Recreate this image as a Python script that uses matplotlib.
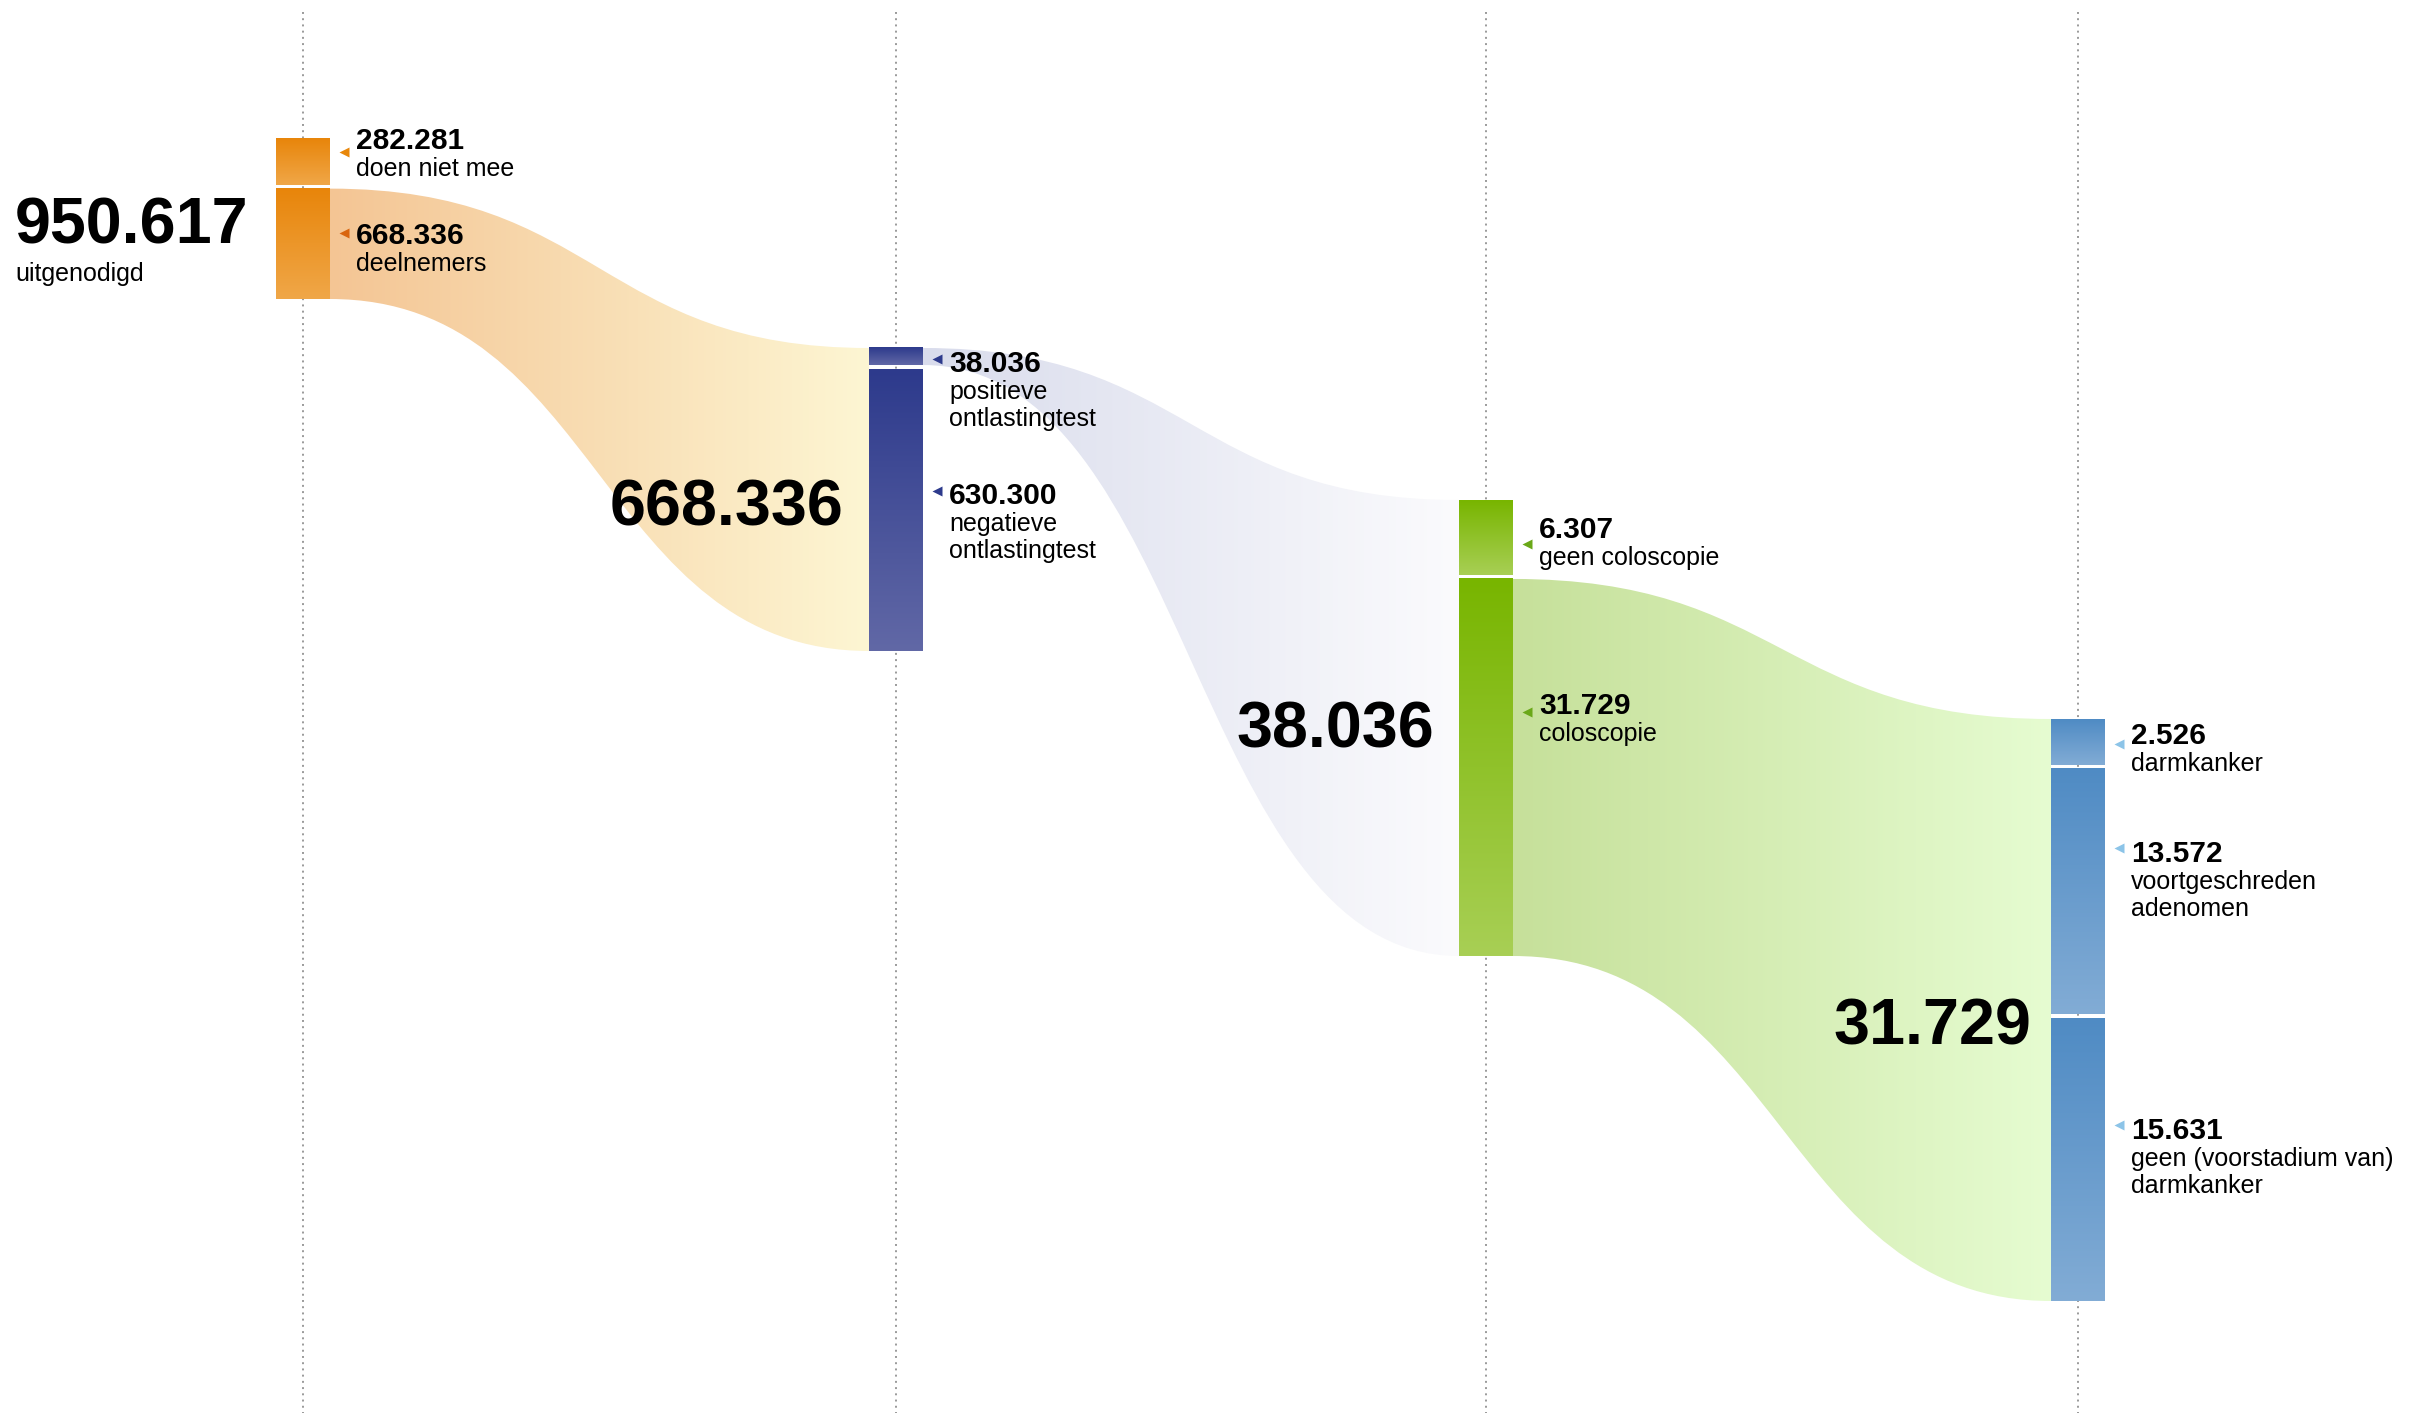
import numpy as np
import matplotlib
matplotlib.use('Agg')
import matplotlib.pyplot as plt
from matplotlib.path import Path
from matplotlib.patches import PathPatch
from matplotlib.colors import to_rgb

plt.rcParams['font.family'] = ['Liberation Sans', 'DejaVu Sans']

# ---------------- data ----------------
stage_totals = [950617, 668336, 38036, 31729]
stage1_caption = 'uitgenodigd'

col1_values = [282281, 668336]
col1_labels = ['doen niet mee', 'deelnemers']
col2_values = [38036, 630300]
col2_labels = ['positieve\nontlastingtest', 'negatieve\nontlastingtest']
col3_values = [6307, 31729]
col3_labels = ['geen coloscopie', 'coloscopie']
col4_values = [2526, 13572, 15631]
col4_labels = ['darmkanker', 'voortgeschreden\nadenomen',
               'geen (voorstadium van)\ndarmkanker']

# segment of each column that flows into the next column
flow_from_segment = [1, 0, 1]

# ---------------- layout / style ----------------
W, H = 2426, 1413
col_x = [303, 896, 1486, 2078]          # column centres (px)
col_top = [138, 348, 500, 719]          # top of column (px)
col_span = [161, 303, 456, 582]         # full column height (px)
bar_half = 27
gap = 4

bar_top_col = ['#e8850a', '#2d3a8c', '#78b500', '#4f8bc4']
bar_bot_col = ['#f0a748', '#6168a6', '#a8cf55', '#82acd5']
tri_cols = [['#e8870a', '#d9650f'], ['#2d3a8c', '#2d3a8c'],
            ['#6aa818', '#6aa818'], ['#8cc4e8', '#8cc4e8', '#8cc4e8']]
flow_left = ['#f4c594', '#d9dcec', '#c6e09a']
flow_right = ['#fdf6d3', '#fbfbfd', '#e6fcd1']

# label anchor positions (number centre y, pointer y)
num_y = [[138, 233], [361, 493], [527, 703], [733, 851, 1128]]
tri_y = [[152, 233], [359, 491], [544, 712], [744, 848, 1125]]

NUM_FS = 21.5
TXT_FS = 18
BIG_FS = 46.5


def fmt(v):
    return f"{v:,}".replace(',', '.')


def px(pt):
    return pt * 100 / 72.0


fig = plt.figure(figsize=(W / 100, H / 100), dpi=100)
ax = fig.add_axes([0, 0, 1, 1])
ax.set_xlim(0, W)
ax.set_ylim(H, 0)
ax.axis('off')

values = [col1_values, col2_values, col3_values, col4_values]
labels = [col1_labels, col2_labels, col3_labels, col4_labels]

# dotted guide lines
for cx in col_x:
    ax.plot([cx, cx], [12, H], color='#9a9a9a', lw=1.4,
            linestyle=(0, (1, 2.2)), zorder=0)

# compute segments
segments = []
for i, vals in enumerate(values):
    content = col_span[i] - gap * (len(vals) - 1)
    scale = content / float(sum(vals))
    y = col_top[i]
    segs = []
    for v in vals:
        h = v * scale
        segs.append((y, y + h))
        y += h + gap
    segments.append(segs)


def vgrad(c1, c2, n=256):
    a = np.array(to_rgb(c1)); b = np.array(to_rgb(c2))
    t = np.linspace(0, 1, n)[:, None]
    return (a + (b - a) * t)[:, None, :]


def hgrad(c1, c2, n=512):
    a = np.array(to_rgb(c1)); b = np.array(to_rgb(c2))
    t = np.linspace(0, 1, n)[:, None]
    return (a + (b - a) * t)[None, :, :]


# flows
for i in range(3):
    s0, s1 = segments[i][flow_from_segment[i]]
    t0, t1 = col_top[i + 1], col_top[i + 1] + col_span[i + 1]
    x0 = col_x[i] + bar_half
    x1 = col_x[i + 1] - bar_half
    c = 0.5 * (x1 - x0)
    verts = [(x0, s0), (x0 + c, s0), (x1 - c, t0), (x1, t0),
             (x1, t1), (x1 - c, t1), (x0 + c, s1), (x0, s1), (x0, s0)]
    codes = [Path.MOVETO, Path.CURVE4, Path.CURVE4, Path.CURVE4,
             Path.LINETO, Path.CURVE4, Path.CURVE4, Path.CURVE4, Path.CLOSEPOLY]
    patch = PathPatch(Path(verts, codes), facecolor='none', edgecolor='none', zorder=1)
    ax.add_patch(patch)
    im = ax.imshow(hgrad(flow_left[i], flow_right[i]),
                   extent=(x0, x1, max(s1, t1) + 2, min(s0, t0) - 2),
                   aspect='auto', interpolation='bilinear', zorder=1)
    im.set_clip_path(patch)

# bars
for i, segs in enumerate(segments):
    for (ya, yb) in segs:
        ax.imshow(vgrad(bar_top_col[i], bar_bot_col[i]),
                  extent=(col_x[i] - bar_half, col_x[i] + bar_half, yb, ya),
                  aspect='auto', interpolation='bilinear', zorder=2)

ax.set_xlim(0, W)
ax.set_ylim(H, 0)

# segment labels
for i in range(4):
    tx = col_x[i] + bar_half + 26
    for j, v in enumerate(values[i]):
        ny = num_y[i][j]
        ax.plot([col_x[i] + bar_half + 14], [tri_y[i][j]], marker='<',
                markersize=7.5, color=tri_cols[i][j], mec='none', zorder=4)
        ax.text(tx, ny + 0.716 * px(NUM_FS) / 2, fmt(v), fontsize=NUM_FS,
                fontweight='bold', ha='left', va='baseline', color='black', zorder=5)
        for k, line in enumerate(labels[i][j].split('\n')):
            ly = ny + 29 + 27 * k
            ax.text(tx, ly + 0.36 * px(TXT_FS), line, fontsize=TXT_FS,
                    ha='left', va='baseline', color='black', zorder=5)

# big totals
big_cap = 0.716 * px(BIG_FS) / 2
ax.text(15, 220 + big_cap, fmt(stage_totals[0]), fontsize=BIG_FS,
        fontweight='bold', ha='left', va='baseline', zorder=5)
ax.text(15, 272 + 0.36 * px(TXT_FS), stage1_caption, fontsize=TXT_FS,
        ha='left', va='baseline', zorder=5)
big_off = [26, 25, 20]
big_dy = [3, -4, 11]
for i in range(1, 4):
    cy = col_top[i] + col_span[i] / 2 + big_dy[i - 1]
    ax.text(col_x[i] - bar_half - big_off[i - 1], cy + big_cap, fmt(stage_totals[i]),
            fontsize=BIG_FS, fontweight='bold', ha='right', va='baseline', zorder=5)

fig.savefig('out.png', dpi=100)
